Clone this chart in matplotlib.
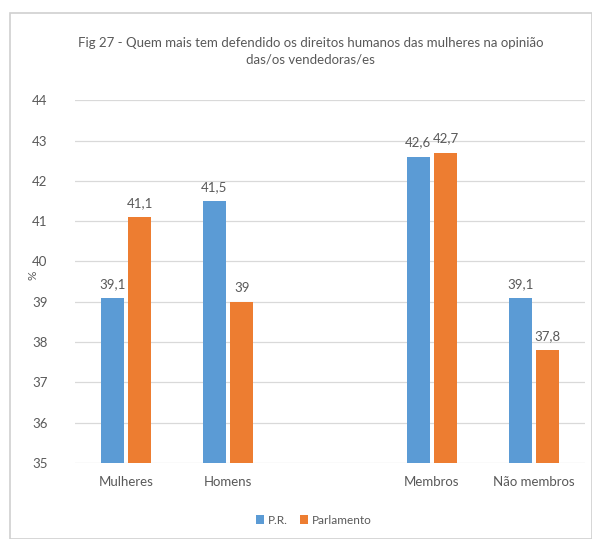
import numpy as np
import matplotlib
matplotlib.use("Agg")
import matplotlib.pyplot as plt
from matplotlib.patches import Rectangle

plt.rcParams["font.family"] = ["Lato", "DejaVu Sans"]

# dados
categorias = ["Mulheres", "Homens", "", "Membros", "Não membros"]
pr = [39.1, 41.5, np.nan, 42.6, 39.1]
parlamento = [41.1, 39.0, np.nan, 42.7, 37.8]
rotulos_pr = ["39,1", "41,5", "", "42,6", "39,1"]
rotulos_parl = ["41,1", "39", "", "42,7", "37,8"]

azul = "#5B9BD5"
laranja = "#ED7D31"
cinza = "#595959"

fig = plt.figure(figsize=(5.92, 5.39), dpi=100)
fig.patches.append(Rectangle((0.017, 0.0), 0.983, 0.976, transform=fig.transFigure,
                             fill=False, edgecolor="#d0d0d0", lw=1.2))
ax = fig.add_axes([0.127, 0.141, 0.861, 0.673])

x = np.arange(len(categorias))
w = 0.225
base = 35
ax.bar(x - 0.135, np.array(pr) - base, w, bottom=base, color=azul, label="P.R.", zorder=3)
ax.bar(x + 0.135, np.array(parlamento) - base, w, bottom=base, color=laranja, label="Parlamento", zorder=3)

for i in range(len(x)):
    if rotulos_pr[i]:
        ax.text(x[i] - 0.135, pr[i] + 0.2, rotulos_pr[i], ha="center", va="bottom",
                fontsize=9.5, color=cinza)
        ax.text(x[i] + 0.135, parlamento[i] + 0.2, rotulos_parl[i], ha="center", va="bottom",
                fontsize=9.5, color=cinza)

ax.set_ylim(35, 44)
ax.set_xlim(-0.5, 4.5)
ax.set_yticks(range(35, 45))
ax.set_xticks(x)
ax.set_xticklabels(categorias)
ax.tick_params(length=0, colors=cinza, labelsize=9.5, pad=9)
ax.tick_params(axis="y", pad=20)
ax.grid(axis="y", color="#d9d9d9", lw=0.9, zorder=0)
for s in ax.spines.values():
    s.set_visible(False)

fig.text(0.055, 0.49, "%", rotation=90, ha="center", va="center", fontsize=8.5, color=cinza)
fig.text(0.525, 0.905, "Fig 27 - Quem mais tem defendido os direitos humanos das mulheres na opinião\ndas/os vendedoras/es",
         ha="center", va="center", fontsize=9.5, color=cinza, linespacing=1.5)

fig.legend(loc="center", bbox_to_anchor=(0.53, 0.035), ncol=2, frameon=False,
           fontsize=8.5, labelcolor=cinza, handlelength=0.7, handleheight=0.7,
           handletextpad=0.3, columnspacing=1.0)

plt.savefig("out.png", dpi=100)
